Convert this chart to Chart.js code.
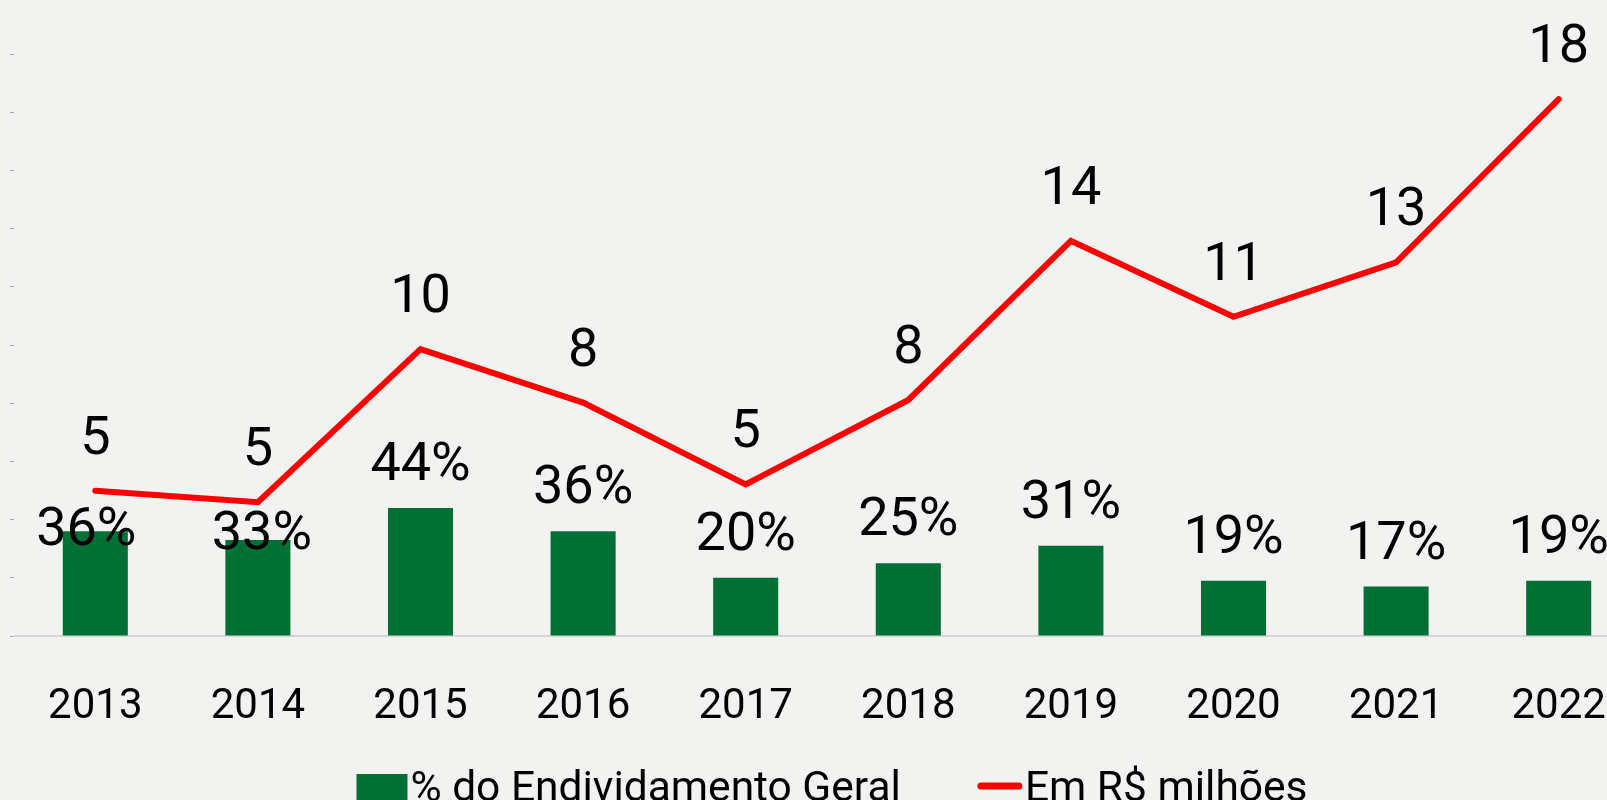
<!DOCTYPE html>
<html>
<head>
<meta charset="utf-8">
<script src="https://cdn.jsdelivr.net/npm/chart.js@4.4.1/dist/chart.umd.min.js"></script>
<style>
  html, body { margin: 0; padding: 0; background: #f2f2f1; overflow: hidden; }
  #wrap { position: absolute; left: 0; top: 0; width: 1660px; height: 840px; }
</style>
</head>
<body>
<div id="wrap"><canvas id="chart"></canvas></div>
<script>
// Years on the category axis
const years = ['2013', '2014', '2015', '2016', '2017', '2018', '2019', '2020', '2021', '2022'];
// Share of total indebtedness (%), drawn as bars
const debtShare = [36, 33, 44, 36, 20, 25, 31, 19, 17, 19];
// Amount in R$ millions, drawn as the line
const debtMillions = [4.99, 4.6, 9.86, 8.02, 5.21, 8.11, 13.58, 10.97, 12.84, 18.45];

const seriesNames = ['% do Endividamento Geral', 'Em R$ milhões'];
const FONT = 'Roboto, "Open Sans", sans-serif';
const BG = '#f2f2f1';

// Hand-placed nudges for the first two bar labels (dx, dy in px)
const barLabelNudge = { 0: [-9, 42], 1: [4, 37] };

const background = {
  id: 'background',
  beforeDraw(chart) {
    const { ctx, width, height } = chart;
    ctx.save();
    ctx.fillStyle = BG;
    ctx.fillRect(0, 0, width, height);
    ctx.restore();
  }
};

const valueLabels = {
  id: 'valueLabels',
  afterDatasetsDraw(chart) {
    const ctx = chart.ctx;
    ctx.save();
    ctx.font = '54px ' + FONT;
    ctx.fillStyle = '#000000';
    ctx.textAlign = 'center';
    ctx.textBaseline = 'alphabetic';
    chart.data.datasets.forEach((ds, i) => {
      const meta = chart.getDatasetMeta(i);
      meta.data.forEach((el, j) => {
        const v = ds.data[j];
        let x = el.x, y, text;
        if (ds.type === 'bar') {
          text = Math.round(v) + '%';
          y = el.y - 28;
          const n = barLabelNudge[j];
          if (n) { x += n[0]; y += n[1]; }
        } else {
          text = String(Math.round(v));
          y = el.y - 37;
        }
        ctx.fillText(text, x, y);
      });
    });
    ctx.restore();
  }
};

const bottomLegend = {
  id: 'bottomLegend',
  afterDraw(chart) {
    const ctx = chart.ctx;
    const area = chart.chartArea;
    const ds = chart.data.datasets;
    ctx.save();
    ctx.font = '42.5px ' + FONT;
    ctx.textBaseline = 'alphabetic';
    ctx.textAlign = 'left';
    const w1 = ctx.measureText(ds[0].label).width;
    const w2 = ctx.measureText(ds[1].label).width;
    const boxW = 51, lineW = 44, gapText = 3, gapItem = 77;
    const total = boxW + gapText + w1 + gapItem + lineW + gapText + w2;
    let x = (area.left + area.right) / 2 + 5 - total / 2;
    const top = area.bottom + 138;
    const baseline = area.bottom + 165;
    // bar swatch
    ctx.fillStyle = ds[0].backgroundColor;
    ctx.fillRect(x, top, boxW, boxW);
    x += boxW + gapText;
    ctx.fillStyle = '#000000';
    ctx.fillText(ds[0].label, x, baseline);
    x += w1 + gapItem;
    // line swatch
    ctx.strokeStyle = ds[1].borderColor;
    ctx.lineWidth = 7;
    ctx.lineCap = 'round';
    ctx.beginPath();
    ctx.moveTo(x + 3, area.bottom + 150);
    ctx.lineTo(x + lineW - 3, area.bottom + 150);
    ctx.stroke();
    x += lineW + gapText;
    ctx.fillStyle = '#000000';
    ctx.fillText(ds[1].label, x, baseline);
    ctx.restore();
  }
};

new Chart(document.getElementById('chart'), {
  data: {
    labels: years,
    datasets: [
      {
        type: 'bar',
        label: seriesNames[0],
        data: debtShare,
        backgroundColor: '#007034',
        borderWidth: 0,
        categoryPercentage: 1.0,
        barPercentage: 0.4,
        yAxisID: 'y',
        order: 2
      },
      {
        type: 'line',
        label: seriesNames[1],
        data: debtMillions,
        borderColor: '#ff0000',
        backgroundColor: '#ff0000',
        borderWidth: 6,
        borderCapStyle: 'round',
        borderJoinStyle: 'miter',
        pointRadius: 0,
        pointHoverRadius: 0,
        tension: 0,
        fill: false,
        yAxisID: 'y1',
        order: 1
      }
    ]
  },
  options: {
    responsive: true,
    maintainAspectRatio: false,
    animation: false,
    events: [],
    layout: { padding: { left: 10, right: 20, top: 54, bottom: 104 } },
    plugins: {
      legend: { display: false },
      tooltip: { enabled: false }
    },
    scales: {
      x: {
        offset: true,
        grid: { display: false, drawTicks: false },
        border: { display: true, color: '#d6d6d6', width: 2 },
        ticks: {
          color: '#000000',
          font: { family: FONT, size: 42 },
          padding: 46,
          maxRotation: 0,
          autoSkip: false
        },
        afterFit(scale) { scale.height = 100; }
      },
      y: {
        position: 'left',
        min: 0,
        max: 200,
        ticks: { stepSize: 20, display: false },
        grid: { drawOnChartArea: false, drawTicks: true, tickLength: 4, color: '#a8a8a8', lineWidth: 1 },
        border: { display: false }
      },
      y1: {
        display: false,
        min: 0,
        max: 20
      }
    }
  },
  plugins: [background, valueLabels, bottomLegend]
});
</script>
</body>
</html>
